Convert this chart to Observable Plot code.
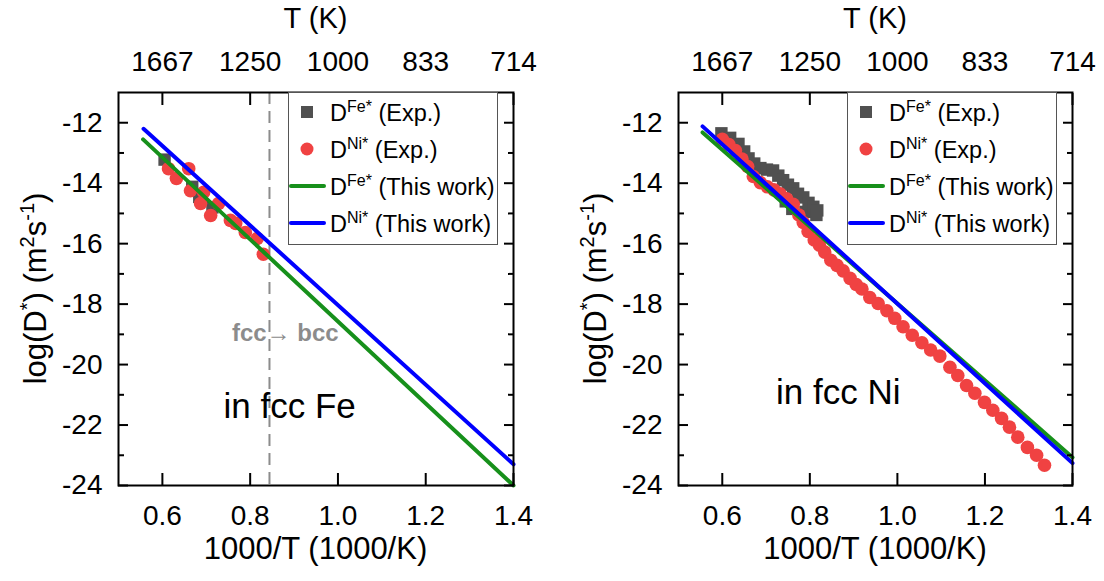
<!DOCTYPE html>
<html><head><meta charset="utf-8">
<script src="https://cdn.jsdelivr.net/npm/d3@7"></script>
<script src="https://cdn.jsdelivr.net/npm/@observablehq/plot@0.6"></script>
<style>
html,body{margin:0;padding:0;background:#fff;}
#wrap{display:flex;width:1104px;height:581px;}
</style></head><body><div id="wrap"></div>
<script>
// ---------- shared axis data ----------
const xTicks = [0.6, 0.8, 1.0, 1.2, 1.4];
const tLabels = ["1667", "1250", "1000", "833", "714"];
const yMajor = [-24, -22, -20, -18, -16, -14, -12];
const yMinor = [-23, -21, -19, -17, -15, -13];
const fccBccX = [0.844];

// ---------- panel 1: in fcc Fe ----------
const feExpFeX = [0.605, 0.668, 0.684, 0.714];
const feExpFeY = [-13.22, -14.12, -14.45, -14.80];
const feExpNiX = [0.614, 0.632, 0.660, 0.664, 0.687, 0.694, 0.710, 0.728, 0.755, 0.767, 0.789, 0.816, 0.830];
const feExpNiY = [-13.52, -13.84, -13.52, -14.25, -14.67, -14.30, -15.07, -14.67, -15.23, -15.33, -15.63, -15.83, -16.35];
const feCalcFeX = [0.556, 1.4];
const feCalcFeY = [-12.55, -24.0];
const feCalcNiX = [0.557, 1.4];
const feCalcNiY = [-12.20, -23.30];

// ---------- panel 2: in fcc Ni ----------
const niExpFeX = [0.598, 0.618, 0.637, 0.650, 0.660, 0.673, 0.687, 0.702, 0.716, 0.728, 0.739, 0.745, 0.750, 0.760, 0.762, 0.773, 0.785, 0.790, 0.797, 0.808, 0.815, 0.817];
const niExpFeY = [-12.35, -12.50, -12.70, -12.95, -13.18, -13.35, -13.50, -13.55, -13.58, -13.75, -13.90, -14.60, -14.05, -14.85, -14.17, -14.35, -14.47, -14.95, -14.65, -14.78, -15.05, -14.90];
const niExpNiX = [0.600, 0.615, 0.630, 0.645, 0.658, 0.671, 0.687, 0.703, 0.718, 0.732, 0.747, 0.762, 0.775, 0.785, 0.796, 0.810, 0.822, 0.834, 0.848, 0.862, 0.876, 0.892, 0.906, 0.919, 0.937, 0.956, 0.976, 0.994, 1.013, 1.034, 1.056, 1.076, 1.097, 1.120, 1.138, 1.158, 1.177, 1.199, 1.218, 1.238, 1.256, 1.275, 1.297, 1.318, 1.336];
const niExpNiY = [-12.55, -12.72, -12.92, -13.20, -13.45, -13.78, -13.98, -14.12, -14.22, -14.35, -14.52, -14.70, -15.05, -15.30, -15.60, -15.88, -16.05, -16.28, -16.55, -16.72, -16.90, -17.15, -17.35, -17.50, -17.78, -17.98, -18.22, -18.47, -18.75, -19.03, -19.28, -19.52, -19.72, -20.09, -20.36, -20.69, -20.95, -21.25, -21.51, -21.78, -22.07, -22.40, -22.74, -23.00, -23.33];
const niCalcFeX = [0.555, 1.4];
const niCalcFeY = [-12.32, -23.07];
const niCalcNiX = [0.555, 1.4];
const niCalcNiY = [-12.12, -23.26];

const FONT = "'Liberation Sans', Arial, Helvetica, sans-serif";
const C_SQ = "#505050", C_CI = "#f04242", C_GR = "#17901b", C_BL = "#0000ff";

const pts = (xs, ys) => xs.map((x, i) => ({x, y: ys[i]}));

function panel(cfg) {
  const W = 552, H = 581, mt = 92, mb = 96;
  const svg = Plot.plot({
    width: W, height: H,
    marginLeft: cfg.ml, marginRight: cfg.mr, marginTop: mt, marginBottom: mb,
    style: {fontFamily: FONT, fontSize: "28px", color: "black", background: "transparent", overflow: "visible"},
    x: {domain: [0.5, 1.4]},
    y: {domain: [-24, -11]},
    marks: [
      cfg.dashed ? Plot.ruleX(cfg.dashed, {stroke: "#8c8c8c", strokeWidth: 2, strokeDasharray: "12,7"}) : null,
      Plot.dot(pts(cfg.sqX, cfg.sqY), {x: "x", y: "y", symbol: "square", r: 7, fill: C_SQ}),
      Plot.dot(pts(cfg.ciX, cfg.ciY), {x: "x", y: "y", r: 6.8, fill: C_CI}),
      Plot.line(pts(cfg.grX, cfg.grY), {x: "x", y: "y", stroke: C_GR, strokeWidth: 4}),
      Plot.line(pts(cfg.blX, cfg.blY), {x: "x", y: "y", stroke: C_BL, strokeWidth: 4}),
      Plot.text(cfg.notes, {x: "x", y: "y", text: "text", fontSize: 35, fill: "black", lineAnchor: "middle"}),
      cfg.phase ? Plot.text(cfg.phase, {x: "x", y: "y", text: "text", fontSize: 24, fontWeight: "bold", fill: "#8c8c8c", lineAnchor: "middle"}) : null,
      Plot.axisX({anchor: "bottom", ticks: xTicks, tickSize: -12, tickPadding: 32, strokeWidth: 2, tickFormat: d => d.toFixed(1), label: null, fontSize: 28}),
      Plot.axisX({anchor: "top", ticks: xTicks, tickSize: -12, tickPadding: 34, strokeWidth: 2, tickFormat: d => tLabels[xTicks.indexOf(d)], label: null, fontSize: 28}),
      Plot.axisY({anchor: "left", ticks: yMajor, tickSize: -10, tickPadding: 26, strokeWidth: 2, tickFormat: d => String(d), label: null, fontSize: 28}),
      Plot.axisY({anchor: "left", ticks: yMinor, tickSize: -6, strokeWidth: 2, tickFormat: () => "", label: null}),
      Plot.axisY({anchor: "right", ticks: yMajor, tickSize: -10, strokeWidth: 2, tickFormat: () => "", label: null}),
      Plot.axisY({anchor: "right", ticks: yMinor, tickSize: -6, strokeWidth: 2, tickFormat: () => "", label: null}),
      Plot.frame({stroke: "black", strokeWidth: 2})
    ]
  });
  const s = d3.select(svg);
  const fl = cfg.ml, fr = W - cfg.mr, cx = (fl + fr) / 2;
  // axis titles
  s.append("text").attr("x", cx).attr("y", 28).attr("text-anchor", "middle")
    .attr("font-size", 29).attr("font-family", FONT).text("T (K)");
  s.append("text").attr("x", cx).attr("y", 559).attr("text-anchor", "middle")
    .attr("font-size", 31).attr("font-family", FONT).text("1000/T (1000/K)");
  const yl = s.append("text").attr("transform", `translate(${fl - 72},${(mt + H - mb) / 2}) rotate(-90)`)
    .attr("text-anchor", "middle").attr("font-size", 31).attr("font-family", FONT);
  yl.append("tspan").text("log(D");
  yl.append("tspan").attr("font-size", 20).attr("dy", -12).text("*");
  yl.append("tspan").attr("dy", 12).text(") (m");
  yl.append("tspan").attr("font-size", 20).attr("dy", -12).text("2");
  yl.append("tspan").attr("dy", 12).text("s");
  yl.append("tspan").attr("font-size", 20).attr("dy", -12).text("-1");
  yl.append("tspan").attr("dy", 12).text(")");
  // legend
  const bx = fr - 225, by = mt, bw = 209, bh = 152;
  const g = s.append("g").attr("font-family", FONT).attr("text-anchor", "start");
  g.append("rect").attr("x", bx + 0.5).attr("y", by + 0.5).attr("width", bw).attr("height", bh)
    .attr("fill", "white").attr("stroke", "#555").attr("stroke-width", 1);
  const items = [
    {kind: "sq", sup: "Fe*", rest: " (Exp.)"},
    {kind: "ci", sup: "Ni*", rest: " (Exp.)"},
    {kind: "gr", sup: "Fe*", rest: " (This work)"},
    {kind: "bl", sup: "Ni*", rest: " (This work)"}
  ];
  items.forEach((it, i) => {
    const yy = by + 20 + i * 37;
    if (it.kind === "sq") g.append("rect").attr("x", bx + 13).attr("y", yy - 6).attr("width", 12).attr("height", 12).attr("fill", C_SQ);
    if (it.kind === "ci") g.append("circle").attr("cx", bx + 19).attr("cy", yy).attr("r", 6.5).attr("fill", C_CI);
    if (it.kind === "gr" || it.kind === "bl") g.append("line").attr("x1", bx + 3).attr("x2", bx + 36).attr("y1", yy).attr("y2", yy)
      .attr("stroke", it.kind === "gr" ? C_GR : C_BL).attr("stroke-width", 4).attr("stroke-linecap", "round");
    const t = g.append("text").attr("x", bx + 42).attr("y", yy + 8.5).attr("font-size", 23.5).attr("text-anchor", "start");
    t.append("tspan").text("D");
    t.append("tspan").attr("font-size", 16).attr("dy", -9).text(it.sup);
    t.append("tspan").attr("dy", 9).text(it.rest);
  });
  return svg;
}

const wrap = document.getElementById("wrap");
wrap.appendChild(panel({
  ml: 118, mr: 39,
  sqX: feExpFeX, sqY: feExpFeY, ciX: feExpNiX, ciY: feExpNiY,
  grX: feCalcFeX, grY: feCalcFeY, blX: feCalcNiX, blY: feCalcNiY,
  dashed: fccBccX,
  notes: [{x: 0.89, y: -21.4, text: "in fcc Fe"}],
  phase: [{x: 0.88, y: -18.97, text: "fcc→ bcc"}]
}));
wrap.appendChild(panel({
  ml: 126, mr: 32,
  sqX: niExpFeX, sqY: niExpFeY, ciX: niExpNiX, ciY: niExpNiY,
  grX: niCalcFeX, grY: niCalcFeY, blX: niCalcNiX, blY: niCalcNiY,
  dashed: null,
  notes: [{x: 0.865, y: -20.95, text: "in fcc Ni"}],
  phase: null
}));
</script></body></html>
